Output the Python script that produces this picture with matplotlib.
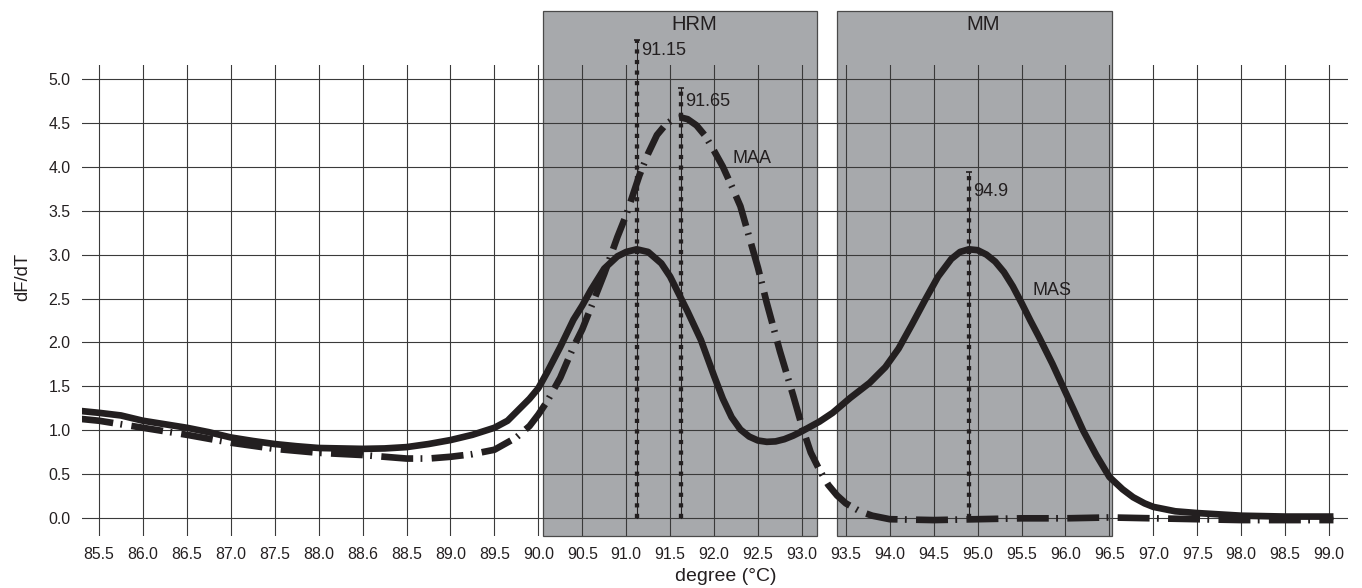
import matplotlib
matplotlib.use("Agg")
import matplotlib.pyplot as plt
from matplotlib.patches import Rectangle
import numpy as np

plt.rcParams['font.family'] = ['Liberation Sans', 'DejaVu Sans']
plt.rcParams['lines.scale_dashes'] = False

# ---------------- data ----------------
x_tick_labels = ["85.5", "86.0", "86.5", "87.0", "87.5", "88.0", "88.6", "88.5", "89.0",
                 "89.5", "90.0", "90.5", "91.0", "91.5", "92.0", "92.5", "93.0", "93.5",
                 "94.0", "94.5", "95.0", "95.5", "96.0", "96.5", "97.0", "97.5", "98.0",
                 "98.5", "99.0"]
y_ticks = [0.0, 0.5, 1.0, 1.5, 2.0, 2.5, 3.0, 3.5, 4.0, 4.5, 5.0]

mas_t = [84.8, 85.0, 85.25, 85.5, 85.75, 86.0, 86.25, 86.5, 86.75, 87.0, 87.25, 87.5,
         88.0, 88.25, 88.5, 88.75, 89.0, 89.25, 89.5, 89.65, 89.75, 89.9, 90.0, 90.1,
         90.25, 90.4, 90.5, 90.6, 90.75, 90.9, 91.0, 91.12, 91.25, 91.4, 91.5, 91.6,
         91.7, 91.85, 92.0, 92.1, 92.2, 92.3, 92.4, 92.5, 92.6, 92.7, 92.8, 92.9, 93.0,
         93.2, 93.35, 93.55, 93.77, 93.95, 94.1, 94.25, 94.4, 94.55, 94.7, 94.8, 94.9,
         95.0, 95.1, 95.2, 95.3, 95.4, 95.5, 95.6, 95.7, 95.85, 95.97, 96.1, 96.2, 96.35,
         96.5, 96.65, 96.77, 96.9, 97.0, 97.25, 97.5, 98.0, 98.5, 99.05]
mas_v = [1.22, 1.20, 1.17, 1.11, 1.07, 1.03, 0.98, 0.92, 0.88, 0.845, 0.82, 0.80,
         0.79, 0.795, 0.81, 0.845, 0.89, 0.95, 1.03, 1.11, 1.21, 1.36, 1.48, 1.66,
         1.95, 2.26, 2.42, 2.60, 2.84, 2.98, 3.03, 3.06, 3.03, 2.90, 2.75, 2.55,
         2.35, 2.03, 1.62, 1.36, 1.15, 1.01, 0.93, 0.885, 0.87, 0.875, 0.90, 0.94, 0.99,
         1.10, 1.20, 1.37, 1.54, 1.72, 1.93, 2.20, 2.48, 2.75, 2.95, 3.03, 3.06,
         3.05, 3.00, 2.92, 2.80, 2.64, 2.45, 2.25, 2.06, 1.76, 1.50, 1.22, 1.00, 0.72,
         0.47, 0.33, 0.24, 0.17, 0.13, 0.08, 0.06, 0.03, 0.02, 0.02]

maa_t = [84.8, 85.0, 85.5, 86.0, 86.5, 87.0, 87.5, 88.0, 88.5, 88.75, 89.0, 89.25, 89.5,
         89.75, 89.9, 90.0, 90.1, 90.25, 90.4, 90.5, 90.6, 90.75, 90.9, 91.0, 91.15,
         91.25, 91.35, 91.45, 91.55, 91.62, 91.7, 91.8, 91.9, 92.0, 92.1, 92.2, 92.3,
         92.4, 92.5, 92.6, 92.75, 92.9, 93.0, 93.1, 93.2, 93.3, 93.4, 93.5, 93.66, 93.8,
         93.9, 94.0, 94.5, 95.0, 95.5, 96.0, 96.5, 97.0, 97.5, 98.0, 98.5, 99.05]
maa_v = [1.13, 1.11, 1.03, 0.95, 0.86, 0.79, 0.745, 0.72, 0.68, 0.68, 0.70, 0.73, 0.78,
         0.92, 1.05, 1.18, 1.33, 1.60, 1.95, 2.15, 2.40, 2.78, 3.20, 3.45, 3.90,
         4.15, 4.36, 4.48, 4.55, 4.56, 4.54, 4.47, 4.35, 4.18, 4.00, 3.78, 3.55,
         3.20, 2.85, 2.45, 1.90, 1.40, 1.05, 0.75, 0.55, 0.38, 0.26, 0.17, 0.08, 0.03,
         0.01, -0.01, -0.02, -0.01, 0.0, 0.0, 0.01, 0.0, -0.01, -0.02, -0.02, -0.02]

peak_x = [91.125, 91.625, 94.9]
peak_top = [5.44, 4.90, 3.94]
peak_labels = ["91.15", "91.65", "94.9"]
peak_label_y = [5.32, 4.745, 3.714]

regions = ["HRM", "MM"]
region_start = [90.05, 93.405]
region_end = [93.17, 96.525]
region_label_x = [91.78, 95.06]

curve_names = ["MAA", "MAS"]
curve_label_x = [92.21, 95.63]
curve_label_y = [4.09, 2.59]

# ---------------- figure ----------------
ink = '#231f20'
fig = plt.figure(figsize=(13.62, 5.88), dpi=100)
ax = fig.add_axes([0.06, 0.0884, 0.9295, 0.801])
ax.set_facecolor('none')
ax.set_xlim(84.803, 99.212)
ax.set_ylim(-0.2013, 5.156)

for s in ax.spines.values():
    s.set_visible(False)

tick_pos = 85.0 + 0.5 * np.arange(len(x_tick_labels))
ax.set_xticks(tick_pos)
ax.set_xticklabels(x_tick_labels)
ax.set_yticks(y_ticks)
ax.set_yticklabels([f"{v:.1f}" for v in y_ticks])
ax.tick_params(length=0, labelsize=11.4, colors='#231f20', pad=8)
ax.set_axisbelow(True)
ax.grid(True, color='#3a3a3a', linewidth=0.8)

# shaded regions
box_top = 5.773
for s0, s1, name, lx in zip(region_start, region_end, regions, region_label_x):
    r = Rectangle((s0, -0.2013), s1 - s0, box_top + 0.2013, facecolor='#a7a9ac',
                  edgecolor='#4a4a4a', linewidth=0.9, zorder=0.2, clip_on=False)
    ax.add_patch(r)
    ax.text(lx, 5.62, name, ha='center', va='center', fontsize=14.5, color=ink)

# peak marker lines
for px, top, lab, ly in zip(peak_x, peak_top, peak_labels, peak_label_y):
    ax.plot([px, px], [0.0, top], color=ink, linewidth=0.8, zorder=2, clip_on=False)
    ax.plot([px, px], [0.0, top], color=ink, linewidth=3.1, zorder=2, clip_on=False,
            linestyle=(0, (3.0, 4.6)), dash_capstyle='butt')
    ax.plot([px], [top], marker='_', markersize=4, markeredgewidth=1.2, color=ink,
            zorder=2, clip_on=False)
    ax.annotate(lab, xy=(px, ly), xytext=(4, 0), textcoords='offset pixels',
                ha='left', va='center', fontsize=13, color=ink, annotation_clip=False)

# curves
ax.plot(mas_t, mas_v, color=ink, linewidth=4.8, solid_capstyle='butt',
        solid_joinstyle='round', zorder=3)
ax.plot(maa_t, maa_v, color=ink, linewidth=4.8, zorder=3,
        linestyle=(0, (23, 5.3, 1.3, 6.7)), dash_capstyle='butt')

for name, lx, ly in zip(curve_names, curve_label_x, curve_label_y):
    ax.text(lx, ly, name, ha='left', va='center', fontsize=13, color=ink)

fig.text(726 / 1362, 1 - 576.7 / 588, "degree (\u00b0C)", ha='center', va='center',
         fontsize=14, color=ink)
fig.text(23 / 1362, 1 - 277 / 588, "dF/dT", ha='center', va='center', rotation=90,
         fontsize=13.3, color=ink)

fig.savefig("out.png", dpi=100)
